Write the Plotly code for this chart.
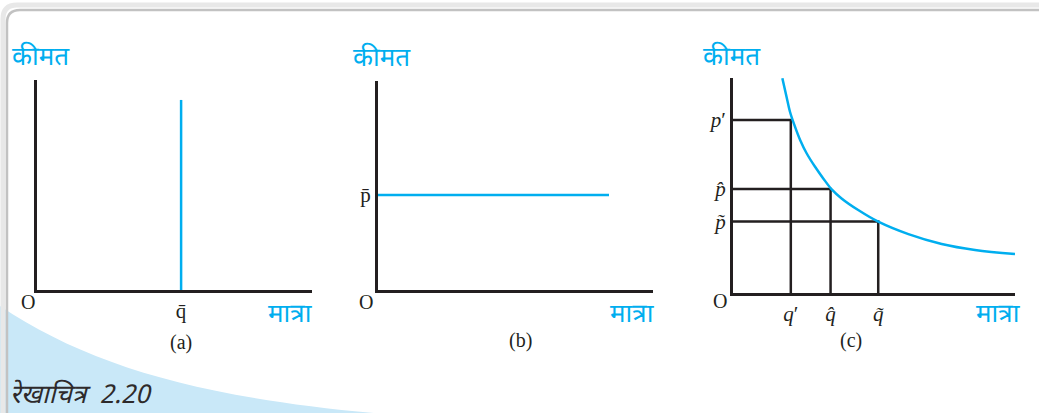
import plotly.graph_objects as go

W, H = 1039, 413

# panel (a): fixed quantity
q_bar = 5.24
a_line_x = [q_bar, q_bar]
a_line_y = [0, 9.05]

# panel (b): fixed price
p_bar = 4.55
b_line_x = [0, 8.4]
b_line_y = [p_bar, p_bar]

# panel (c): demand curve
curve_q = [1.75, 1.90, 2.02, 2.20, 2.38, 2.61, 2.91, 3.20, 3.50, 3.85, 4.44,
           5.15, 6.22, 7.40, 8.58, 10.0]
curve_p = [9.99, 9.12, 8.43, 7.73, 7.12, 6.50, 5.87, 5.33, 4.82, 4.40, 3.86,
           3.32, 2.74, 2.28, 2.00, 1.81]
q_vals = [2.05, 3.46, 5.15]
p_vals = [8.05, 4.84, 3.32]
q_labels = ["<i>q</i>′", "<i>q̂</i>", "<i>q̃</i>"]
p_labels = ["<i>p</i>′", "<i>p̂</i>", "<i>p̃</i>"]

BLUE = "#00aeef"
DARK = "#231f20"
SERIF = "Liberation Serif, DejaVu Serif, serif"
DEVA = "Noto Sans Devanagari, Noto Sans, sans-serif"


def px(x):
    return x / W


def py(y):
    return 1 - y / H


fig = go.Figure()

fig.add_trace(go.Scatter(x=a_line_x, y=a_line_y, mode="lines",
                         line=dict(color=BLUE, width=2.5), xaxis="x", yaxis="y"))
fig.add_trace(go.Scatter(x=b_line_x, y=b_line_y, mode="lines",
                         line=dict(color=BLUE, width=2.5), xaxis="x2", yaxis="y2"))
for q, p in zip(q_vals, p_vals):
    fig.add_trace(go.Scatter(x=[0, q, q], y=[p, p, 0], mode="lines",
                             line=dict(color=DARK, width=2.5), xaxis="x3", yaxis="y3"))
fig.add_trace(go.Scatter(x=curve_q, y=curve_p, mode="lines",
                         line=dict(color=BLUE, width=2.5, shape="spline", smoothing=1),
                         xaxis="x3", yaxis="y3"))

ax_common = dict(range=[0, 10], showgrid=False, zeroline=False, showline=True,
                 linecolor=DARK, linewidth=3, ticks="", fixedrange=True,
                 tickfont=dict(family=SERIF, size=21, color=DARK))

fig.update_layout(
    width=W, height=H,
    margin=dict(l=0, r=0, t=0, b=0),
    paper_bgcolor="white", plot_bgcolor="white",
    showlegend=False,
    xaxis=dict(ax_common, domain=[px(37), px(312)], anchor="y",
               tickvals=[q_bar], ticktext=["q̄"]),
    yaxis=dict(ax_common, domain=[py(290), py(80)], anchor="x", showticklabels=False),
    xaxis2=dict(ax_common, domain=[px(378), px(653)], anchor="y2", showticklabels=False),
    yaxis2=dict(ax_common, domain=[py(290), py(81)], anchor="x2",
                tickvals=[p_bar], ticktext=["p̄"]),
    xaxis3=dict(ax_common, domain=[px(733), px(1015)], anchor="y3",
                tickvals=q_vals, ticktext=q_labels),
    yaxis3=dict(ax_common, domain=[py(293), py(78)], anchor="x3",
                tickvals=p_vals, ticktext=p_labels),
)

# frame and corner decoration
fig.add_shape(type="path", xref="paper", yref="paper",
              path=f"M {px(0)},{py(306)} C {px(90)},{py(366)} {px(200)},{py(398)} {px(385)},{py(414)} L {px(0)},{py(414)} Z",
              fillcolor="#c9e8f8", line=dict(width=0), layer="below")
fig.add_shape(type="path", xref="paper", yref="paper",
              path=f"M {px(3)},{py(420)} L {px(3)},{py(19)} Q {px(3)},{py(5)} {px(17)},{py(5)} L {px(1045)},{py(5)}",
              line=dict(color="#e8e8e8", width=5))
fig.add_shape(type="path", xref="paper", yref="paper",
              path=f"M {px(7)},{py(420)} L {px(7)},{py(23)} Q {px(7)},{py(10)} {px(20)},{py(10)} L {px(1045)},{py(10)}",
              line=dict(color="#c2c2c2", width=2.5))

labels = [
    ("कीमत", 41, 59, BLUE, DEVA, 26, "center"),
    ("कीमत", 382, 60, BLUE, DEVA, 26, "center"),
    ("कीमत", 732, 58, BLUE, DEVA, 26, "center"),
    ("मात्रा", 290, 316, BLUE, DEVA, 26, "center"),
    ("मात्रा", 632, 316, BLUE, DEVA, 26, "center"),
    ("मात्रा", 998, 316, BLUE, DEVA, 26, "center"),
    ("O", 28, 302, DARK, SERIF, 20, "center"),
    ("O", 366, 302, DARK, SERIF, 20, "center"),
    ("O", 720, 301, DARK, SERIF, 20, "center"),
    ("(a)", 181, 342, DARK, SERIF, 20, "center"),
    ("(b)", 520, 340, DARK, SERIF, 20, "center"),
    ("(c)", 851, 340, DARK, SERIF, 20, "center"),
    ("<i>रेखाचित्र  2.20</i>", 8, 396, "#2e2a2b", DEVA, 26, "left"),
]
for text, x, y, color, family, size, anchor in labels:
    fig.add_annotation(text=text, x=px(x), y=py(y), xref="paper", yref="paper",
                       showarrow=False, xanchor=anchor, yanchor="middle",
                       font=dict(family=family, size=size, color=color))

fig.write_html("out.html", config={"displayModeBar": False},
               post_script="document.body.style.margin='0';")
